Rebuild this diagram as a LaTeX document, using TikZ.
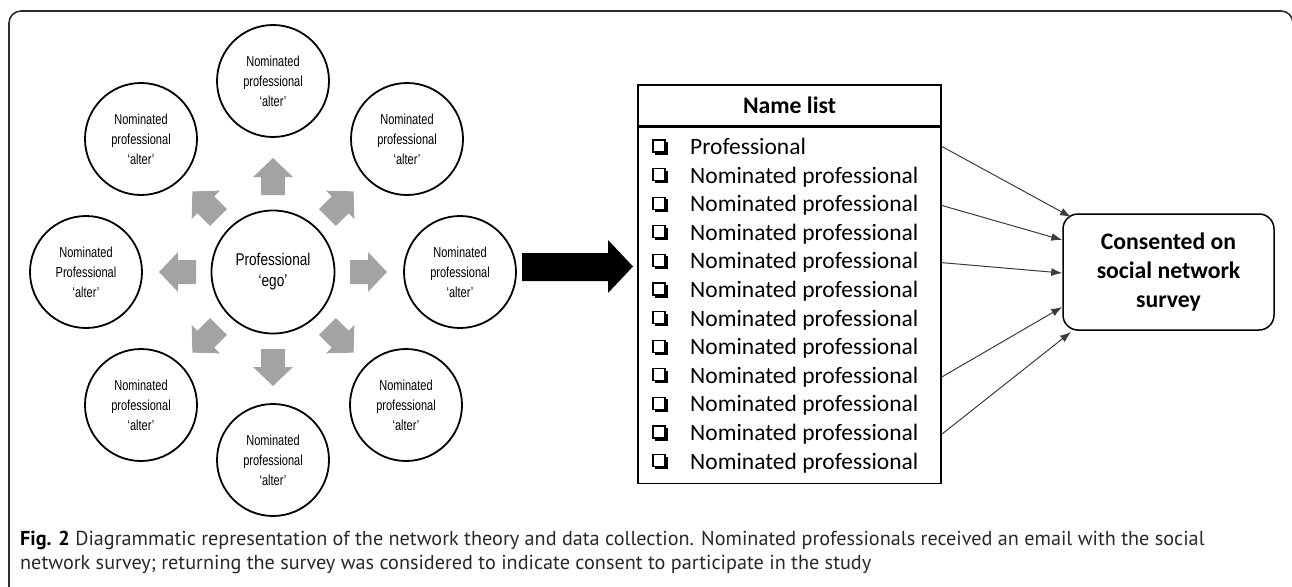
\documentclass[tikz,border=0pt]{standalone}
\usepackage{fontspec}
\usetikzlibrary{arrows.meta}
\setmainfont{Liberation Sans}
\newfontfamily\circfont[FakeStretch=0.76]{Liberation Sans}
\newfontfamily\egofont[FakeStretch=0.8]{Liberation Sans}
\newfontfamily\listfont{Carlito}
\newfontfamily\capfont{PT Sans}
\definecolor{arrowgray}{RGB}{163,163,163}
\definecolor{linegray}{RGB}{60,60,60}
\definecolor{framegray}{RGB}{45,45,45}
\definecolor{captext}{RGB}{40,40,40}

\begin{document}
\begin{tikzpicture}[x=1pt,y=-1pt,
  alter/.style={circle,draw=black,line width=1.8pt,minimum size=112pt,inner sep=0pt,
    align=center,font=\circfont\fontsize{14.5}{20}\selectfont},
  egonode/.style={alter,minimum size=123pt,font=\egofont\fontsize{17}{21}\selectfont},
  listbox/.style={draw=black,line width=1.5pt,inner sep=0pt},
  rowtext/.style={anchor=base west,inner sep=0pt,font=\listfont\fontsize{23.5}{28}\selectfont},
  consbox/.style={draw=black,line width=1.5pt,rounded corners=15pt,minimum width=211pt,
    minimum height=116pt,align=center,font=\listfont\bfseries\fontsize{23.7}{29}\selectfont},
  conn/.style={draw=linegray,line width=1pt,-{Latex[length=11pt,width=8pt]}},
  captxt/.style={anchor=base west,inner sep=0pt,text=captext,font=\capfont\fontsize{20.2}{24}\selectfont}
]
\useasboundingbox (0,0) rectangle (1292,586);

% outer frame, open to the right and bottom
\draw[framegray,line width=1.6pt,rounded corners=12pt] (9,600) -- (9,11) -- (1293,11) -- (1293,600);

% ego and its alters
\node[egonode] (ego) at (273,272) {Professional\\‘ego’};
\node[alter] (nT)  at (273,81)  {Nominated\\professional\\‘alter’};
\node[alter] (nTL) at (141,139) {Nominated\\professional\\‘alter’};
\node[alter] (nTR) at (407,139) {Nominated\\professional\\‘alter’};
\node[alter] (nL)  at (86,272)  {Nominated\\Professional\\‘alter’};
\node[alter] (nR)  at (460,272) {Nominated\\professional\\‘alter’};
\node[alter] (nBL) at (141,405) {Nominated\\professional\\‘alter’};
\node[alter] (nBR) at (406,405) {Nominated\\professional\\‘alter’};
\node[alter] (nB)  at (273,460) {Nominated\\professional\\‘alter’};

% grey block arrows radiating from the ego
\foreach \a in {0,45,...,315}{
  \begin{scope}[shift={(ego.center)},rotate=\a]
    \fill[arrowgray] (77,-12) -- (95,-12) -- (95,-20) -- (114,0) -- (95,20) -- (95,12) -- (77,12) -- cycle;
  \end{scope}
}

% black block arrow towards the name list
\fill[black] (522,253) -- (608,253) -- (608,240) -- (633,266.5) -- (608,293) -- (608,281) -- (522,281) -- cycle;

% name list
\node[listbox,minimum width=303pt,minimum height=41pt] (hdr) at (789.5,105.5)
  {\listfont\bfseries\fontsize{23.7}{28}\selectfont Name list};
\node[listbox,minimum width=303pt,minimum height=356pt,anchor=north] (body) at (hdr.south) {};

\foreach \i in {1,...,12}{
  \pgfmathsetmacro\yy{147+(\i-1)*28.6}
  \draw[line width=1.2pt] (653,\yy-7) rectangle (665,\yy+5);
  \fill (655,\yy+5) rectangle (667.5,\yy+7.5);
  \fill (665,\yy-5) rectangle (667.5,\yy+7.5);
  \node[rowtext] (r\i) at (690,\yy+7.5) {\ifnum\i=1 Professional\else Nominated professional\fi};
}

% consent box and the returns feeding it
\node[consbox] (cons) at (1168.5,272) {Consented on\\social network\\survey};
\coordinate (t1) at (1071,217);
\coordinate (t2) at (cons.west |- 0,240);
\coordinate (t3) at (cons.west |- 0,273);
\coordinate (t4) at (cons.west |- 0,307);
\coordinate (t5) at (1071,332);
\draw[conn] (body.east |- r1) -- (t1);
\draw[conn] (body.east |- r3) -- (t2);
\draw[conn] (body.east |- r5) -- (t3);
\draw[conn] (body.east |- r9) -- (t4);
\draw[conn] (body.east |- r11) -- (t5);

% caption
\node[captxt] (cap1) at (20,545) {\textbf{\color{black}Fig. 2} Diagrammatic representation of the network theory and data collection. Nominated professionals received an email with the social};
\node[captxt] (cap2) at (20,569) {network survey; returning the survey was considered to indicate consent to participate in the study};
\end{tikzpicture}
\end{document}
